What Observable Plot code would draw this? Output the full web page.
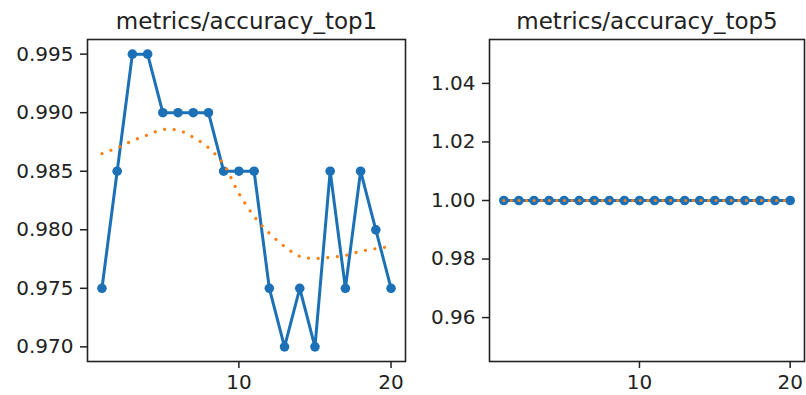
<!DOCTYPE html>
<html><head><meta charset="utf-8">
<script src="https://cdn.jsdelivr.net/npm/d3@7"></script>
<script src="https://cdn.jsdelivr.net/npm/@observablehq/plot@0.6"></script>
<style>
body{margin:0;background:#fff;}
#wrap{position:relative;width:806px;height:395px;overflow:hidden;}
#wrap > svg{position:absolute;top:0;}
</style></head><body><div id="wrap"></div>
<script>
const epochs = [1,2,3,4,5,6,7,8,9,10,11,12,13,14,15,16,17,18,19,20];
const top1 = [0.975,0.985,0.995,0.995,0.990,0.990,0.990,0.990,0.985,0.985,0.985,0.975,0.970,0.975,0.970,0.985,0.975,0.985,0.980,0.975];
const top1Smooth = [0.9865,0.9870,0.9876,0.9881,0.98855,0.9885,0.9879,0.9870,0.9856,0.9831,0.98115,0.9797,0.97858,0.97773,0.97756,0.97764,0.97781,0.97816,0.97839,0.97858];
const top5 = [1,1,1,1,1,1,1,1,1,1,1,1,1,1,1,1,1,1,1,1];
const top5Smooth = [1,1,1,1,1,1,1,1,1,1,1,1,1,1,1,1,1,1,1,1];
const titles = ["metrics/accuracy_top1", "metrics/accuracy_top5"];
const top1Ticks = [0.970,0.975,0.980,0.985,0.990,0.995];
const top5Ticks = [0.96,0.98,1.00,1.02,1.04];
const xTicks = [10,20];

const BLUE = "#1c71b6", ORANGE = "#ff7f0e", INK = "#222";

function panel({title, values, smooth, yDomain, yTicks, yFormat, width, marginLeft, marginRight, dash}) {
  const raw = epochs.map((e, i) => ({epoch: e, value: values[i]}));
  const sm = epochs.map((e, i) => ({epoch: e, value: smooth[i]}));
  return Plot.plot({
    width, height: 395,
    marginLeft, marginRight, marginTop: 39, marginBottom: 34,
    style: {fontFamily: "DejaVu Sans", fontSize: "20px", color: INK, background: "transparent"},
    x: {domain: [0.05, 20.95], label: null},
    y: {domain: yDomain, label: null},
    marks: [
      Plot.axisX({ticks: xTicks, tickSize: 7, tickPadding: 6, label: null, fontSize: 20, strokeWidth: 1.5}),
      Plot.axisY({ticks: yTicks, tickFormat: yFormat, tickSize: 7, tickPadding: 7, label: null, fontSize: 20, strokeWidth: 1.5}),
      Plot.line(raw, {x: "epoch", y: "value", stroke: BLUE, strokeWidth: 3}),
      Plot.dot(raw, {x: "epoch", y: "value", fill: BLUE, r: 4.8}),
      Plot.line(sm, {x: "epoch", y: "value", stroke: ORANGE, strokeWidth: 3.2, curve: "catmull-rom", strokeDasharray: dash, strokeLinecap: "round"}),
      Plot.frame({stroke: INK, strokeWidth: 1.6}),
      Plot.text([title], {frameAnchor: "top", text: d => d, lineAnchor: "bottom", dy: -11, fontSize: 23, fill: INK})
    ]
  });
}

const wrap = document.getElementById("wrap");
const left = panel({title: titles[0], values: top1, smooth: top1Smooth, yDomain: [0.96875, 0.99625], yTicks: top1Ticks, yFormat: ".3f", width: 430, marginLeft: 87, marginRight: 25, dash: "0.01 9.6"});
left.style.left = "0px";
const right = panel({title: titles[1], values: top5, smooth: top5Smooth, yDomain: [0.945, 1.055], yTicks: top5Ticks, yFormat: ".2f", width: 376, marginLeft: 59, marginRight: 2, dash: "0.01 7.57"});
right.style.left = "430px";
wrap.append(left, right);
</script></body></html>
